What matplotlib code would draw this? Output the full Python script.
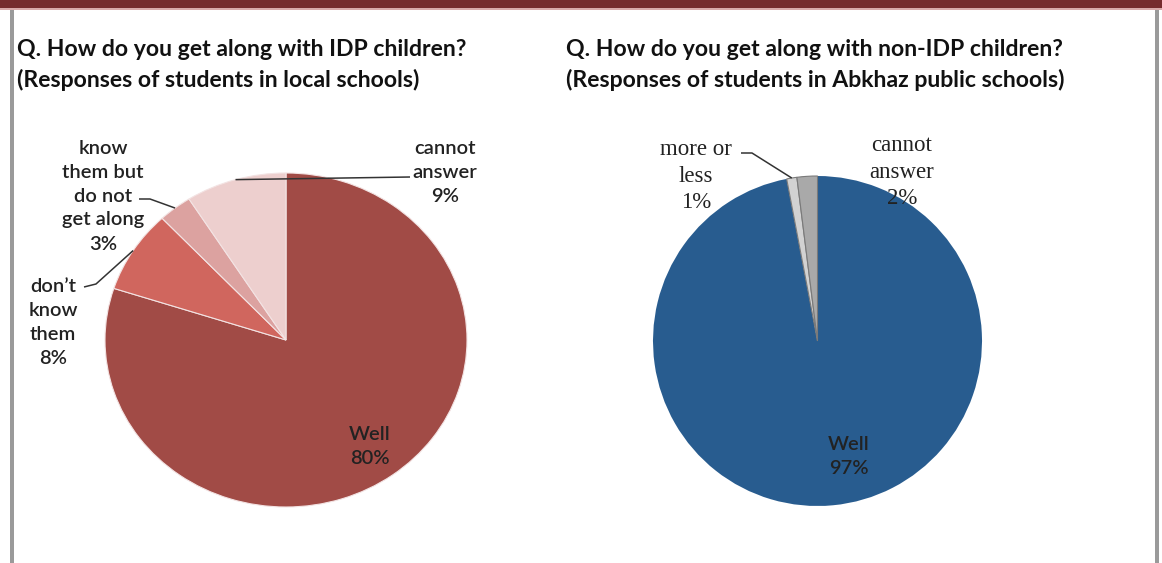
import numpy as np
import matplotlib
matplotlib.use("Agg")
import matplotlib.pyplot as plt
from matplotlib.patches import Rectangle

# ---------------- data ----------------
titles_left = ["Q. How do you get along with IDP children?",
               "(Responses of students in local schools)"]
titles_right = ["Q. How do you get along with non-IDP children?",
                "(Responses of students in Abkhaz public schools)"]

left_labels = ["Well", "don\u2019t know them", "know them but do not get along", "cannot answer"]
left_values = [80, 8, 3, 9]
left_colors = ["#a14b46", "#d0665e", "#dca2a0", "#edcfce"]

right_labels = ["Well", "more or less", "cannot answer"]
right_values = [97, 1, 2]
right_colors = ["#285c8f", "#d2d2d2", "#a9a9a9"]

W, H = 1162, 563
fig = plt.figure(figsize=(W / 100, H / 100), dpi=100)
fig.patch.set_facecolor("white")

# overlay axes in pixel coordinates
ov = fig.add_axes([0, 0, 1, 1])
ov.set_xlim(0, W)
ov.set_ylim(H, 0)
ov.axis("off")
ov.set_zorder(5)

# decorations
ov.add_patch(Rectangle((0, 0), W, 8, color="#762b2d", lw=0))
ov.add_patch(Rectangle((0, 8), W, 2, color="#d9a9a9", lw=0))
ov.add_patch(Rectangle((10, 10), 4, H - 10, color="#9a9a9a", lw=0))
ov.add_patch(Rectangle((1155, 10), 4, H - 10, color="#9a9a9a", lw=0))

title_font = dict(family=["Lato", "DejaVu Sans"], fontweight="bold", fontsize=16.6, color="#111111")
ov.text(17, 50, titles_left[0], ha="left", va="center", **title_font)
ov.text(17, 80, titles_left[1], ha="left", va="center", **title_font)
ov.text(566, 50, titles_right[0], ha="left", va="center", **title_font)
ov.text(566, 80, titles_right[1], ha="left", va="center", **title_font)


def pie_axes(x0, x1, y0, y1):
    ax = fig.add_axes([x0 / W, 1 - y1 / H, (x1 - x0) / W, (y1 - y0) / H])
    return ax


def to_px(ax, x, y):
    disp = ax.transData.transform((x, y))
    return ov.transData.inverted().transform(disp)


def mid_angle(values, i, start=90):
    tot = sum(values)
    before = sum(values[:i])
    return np.deg2rad(start - 360 * (before + values[i] / 2) / tot)


# ---------------- left pie ----------------
ax1 = pie_axes(105, 467, 173, 507)
ax1.pie(left_values, colors=left_colors, startangle=90, counterclock=False,
        wedgeprops=dict(edgecolor="#f3e3e3", linewidth=0.8))
ax1.set_aspect("auto")
ax1.set_xlim(-1, 1)
ax1.set_ylim(-1, 1)

lab_font = dict(family=["Lato", "DejaVu Sans"], fontsize=14.5, fontweight="semibold",
                color="#222222", ha="center", va="center", linespacing=1.5)
ov.text(370, 446, "Well\n80%", **lab_font)
ov.text(445, 172, "cannot\nanswer\n9%", **lab_font)
ov.text(103, 196, "know\nthem but\ndo not\nget along\n3%", **lab_font)
ov.text(53, 323, "don\u2019t\nknow\nthem\n8%", **lab_font)

# leader lines
def leader(ax, values, i, knee, end, r=1.0):
    a = mid_angle(values, i)
    px, py = to_px(ax, r * np.cos(a), r * np.sin(a))
    ov.plot([end[0], knee[0], px], [end[1], knee[1], py], color="#333333", lw=1.1,
            solid_capstyle="butt")

leader(ax1, left_values, 3, (410, 177), (410, 177))
leader(ax1, left_values, 2, (150, 199), (139, 199))
leader(ax1, left_values, 1, (96, 284), (84, 287))

# ---------------- right pie ----------------
ax2 = pie_axes(653, 982, 176, 506)
wedges, _ = ax2.pie(right_values, colors=right_colors, startangle=90, counterclock=False,
                    wedgeprops=dict(edgecolor="none", linewidth=0))
for w in wedges[1:]:
    w.set_edgecolor("#7a7a7a")
    w.set_linewidth(0.8)
ax2.set_aspect("auto")
ax2.set_xlim(-1, 1)
ax2.set_ylim(-1, 1)

serif_font = dict(family=["Liberation Serif", "DejaVu Serif"], fontsize=16.5, color="#222222",
                  ha="center", va="center", linespacing=1.35)
ov.text(696, 176, "more or\nless\n1%", **serif_font)
ov.text(902, 172, "cannot\nanswer\n2%", **serif_font)
ov.text(849, 457, "Well\n97%", **lab_font)

leader(ax2, right_values, 1, (752, 153), (741, 153))

fig.savefig("out.png", dpi=100, facecolor="white")
